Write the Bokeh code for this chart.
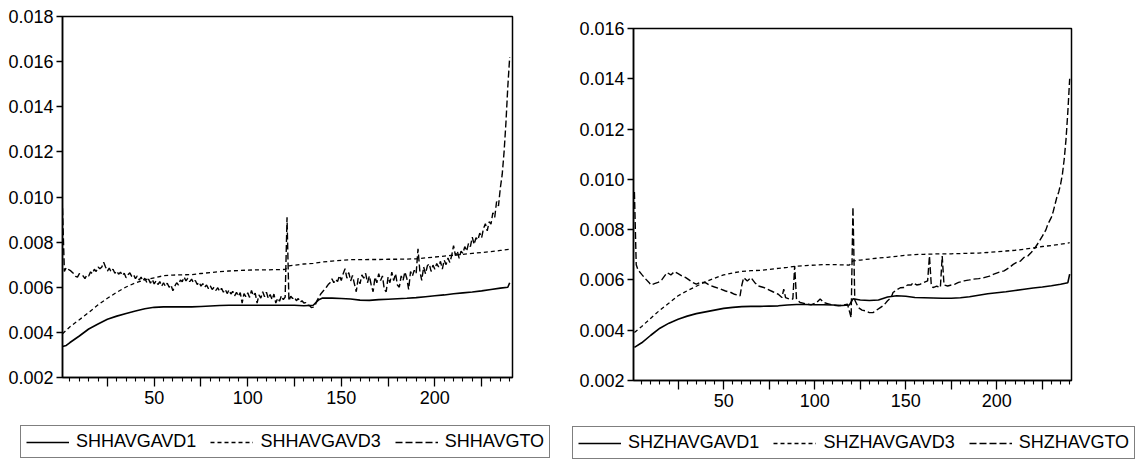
from bokeh.plotting import figure
from bokeh.layouts import row, column
from bokeh.models import (FixedTicker, NumeralTickFormatter, Range1d, Legend, LegendItem)
from bokeh.embed import file_html
from bokeh.resources import INLINE

# ---------------- data: Shanghai (left) ----------------
sh_avd1_x = [1, 3, 5, 10, 15, 20, 25, 30, 35, 40, 45, 50, 55, 60, 65, 70, 75, 80, 85, 90, 95, 100,
             105, 110, 115, 120, 125, 130, 135, 138, 140, 145, 150, 155, 160, 165, 170, 175, 180,
             185, 190, 195, 200, 205, 210, 215, 220, 225, 230, 235, 239, 240]
sh_avd1_y = [0.00337, 0.00342, 0.00355, 0.00384, 0.00415, 0.00437, 0.00458, 0.00472, 0.00484,
             0.00495, 0.00505, 0.00511, 0.00513, 0.00513, 0.00513, 0.00513, 0.00515, 0.00517,
             0.00519, 0.0052, 0.0052, 0.0052, 0.0052, 0.0052, 0.0052, 0.0052, 0.0052, 0.00518,
             0.0052, 0.00545, 0.00552, 0.00552, 0.0055, 0.00548, 0.00543, 0.00542, 0.00545,
             0.00547, 0.00549, 0.00551, 0.00554, 0.00558, 0.00562, 0.00566, 0.00571, 0.00575,
             0.00579, 0.00584, 0.0059, 0.00596, 0.006, 0.0062]

sh_avd3_x = [1, 5, 10, 15, 20, 25, 30, 35, 40, 45, 50, 55, 60, 65, 70, 75, 80, 85, 90, 95, 100,
             105, 110, 115, 120, 122, 125, 130, 135, 140, 145, 150, 155, 160, 165, 170, 175, 180,
             185, 190, 195, 200, 205, 210, 215, 220, 225, 230, 235, 240]
sh_avd3_y = [0.00394, 0.00425, 0.00456, 0.00488, 0.00522, 0.00551, 0.00578, 0.00601, 0.0062,
             0.00633, 0.00642, 0.00651, 0.00654, 0.00655, 0.00656, 0.00661, 0.00665, 0.00669,
             0.00672, 0.00674, 0.00676, 0.00677, 0.00677, 0.00678, 0.00679, 0.00695, 0.00698,
             0.00703, 0.00706, 0.00712, 0.00716, 0.00719, 0.00722, 0.00722, 0.00723, 0.00723,
             0.00724, 0.00724, 0.00725, 0.00726, 0.0073, 0.00734, 0.00738, 0.00742, 0.00746,
             0.0075, 0.00754, 0.00758, 0.00763, 0.00768]

# observations 1..240
sh_to_y = [
    0.0095, 0.0067, 0.00687, 0.0068, 0.00675, 0.00668, 0.0066, 0.00648, 0.00645, 0.0066,      # 1-10
    0.00655, 0.0065, 0.00638, 0.00655, 0.0065, 0.00668, 0.0066, 0.0068, 0.0067, 0.0069,       # 11-20
    0.00682, 0.0069, 0.00711, 0.0069, 0.00672, 0.00685, 0.00668, 0.0068, 0.00662, 0.00672,    # 21-30
    0.00658, 0.00667, 0.00652, 0.00662, 0.00642, 0.00655, 0.00664, 0.00648, 0.00655, 0.00638, # 31-40
    0.0065, 0.00632, 0.00645, 0.00628, 0.0064, 0.00622, 0.00636, 0.00618, 0.00634, 0.00615,   # 41-50
    0.00628, 0.00612, 0.00625, 0.00605, 0.0062, 0.00604, 0.00618, 0.006, 0.0061, 0.00584,     # 51-60
    0.00605, 0.0062, 0.0061, 0.00632, 0.00625, 0.00645, 0.00628, 0.0064, 0.00625, 0.00636,    # 61-70
    0.0062, 0.0063, 0.00612, 0.00622, 0.00605, 0.00616, 0.006, 0.0061, 0.00594, 0.00606,      # 71-80
    0.0059, 0.006, 0.00586, 0.00598, 0.00582, 0.00595, 0.00578, 0.0059, 0.00572, 0.00588,     # 81-90
    0.0057, 0.00582, 0.00562, 0.00578, 0.0056, 0.00576, 0.0053, 0.00572, 0.00558, 0.00575,    # 91-100
    0.00555, 0.00586, 0.00562, 0.00574, 0.0053, 0.00566, 0.00552, 0.0058, 0.00558, 0.00578,   # 101-110
    0.0055, 0.00568, 0.00545, 0.0057, 0.0053, 0.00552, 0.00538, 0.00562, 0.00545, 0.00556,    # 111-120
    0.0091, 0.0054, 0.0056, 0.0055, 0.00556, 0.0054, 0.0055, 0.00534, 0.0054, 0.0053,         # 121-130
    0.00532, 0.0052, 0.00519, 0.0051, 0.00512, 0.0052, 0.0054, 0.00556, 0.0057, 0.0058,       # 131-140
    0.0059, 0.006, 0.00612, 0.0062, 0.00638, 0.0062, 0.00635, 0.00625, 0.00652, 0.0063,       # 141-150
    0.0066, 0.00682, 0.0064, 0.00665, 0.00628, 0.00652, 0.00615, 0.0058, 0.0064, 0.00615,     # 151-160
    0.00655, 0.0064, 0.00662, 0.0062, 0.0065, 0.0061, 0.0058, 0.00645, 0.0062, 0.0066,        # 161-170
    0.0063, 0.0065, 0.0059, 0.0058, 0.00645, 0.0062, 0.00667, 0.0063, 0.0066, 0.0061,         # 171-180
    0.006, 0.0065, 0.0063, 0.00668, 0.0064, 0.0059, 0.0067, 0.0065, 0.00675, 0.0066,          # 181-190
    0.0077, 0.0067, 0.0063, 0.0069, 0.0066, 0.00695, 0.00704, 0.0067, 0.00698, 0.0068,        # 191-200
    0.00705, 0.0069, 0.00715, 0.0068, 0.0072, 0.007, 0.0073, 0.0071, 0.0074, 0.00785,         # 201-210
    0.0074, 0.0076, 0.00728, 0.0076, 0.0075, 0.0078, 0.0076, 0.00795, 0.0078, 0.00822,        # 211-220
    0.0079, 0.0082, 0.0081, 0.0084, 0.0082, 0.0086, 0.00882, 0.0085, 0.0089, 0.0088,          # 221-230
    0.0093, 0.0091, 0.0098, 0.0096, 0.0104, 0.011, 0.012, 0.0133, 0.0149, 0.0162,             # 231-240
]
sh_to_x = list(range(1, len(sh_to_y) + 1))

# ---------------- data: Shenzhen (right) ----------------
sz_avd1_x = [1, 5, 10, 15, 20, 25, 30, 35, 40, 45, 50, 55, 60, 65, 70, 75, 80, 85, 90, 95, 100,
             105, 110, 115, 119, 121, 125, 130, 135, 140, 145, 150, 155, 160, 165, 170, 175, 180,
             185, 190, 195, 200, 205, 210, 215, 220, 225, 230, 235, 239, 240]
sz_avd1_y = [0.00332, 0.0035, 0.0038, 0.00408, 0.00428, 0.00444, 0.00456, 0.00466, 0.00473,
             0.0048, 0.00487, 0.00491, 0.00494, 0.00495, 0.00495, 0.00496, 0.00497, 0.005,
             0.00502, 0.00502, 0.00501, 0.00501, 0.005, 0.00498, 0.005, 0.00525, 0.0052, 0.00518,
             0.0052, 0.00532, 0.00537, 0.00535, 0.0053, 0.00529, 0.00528, 0.00527, 0.00527,
             0.00529, 0.00533, 0.00539, 0.00545, 0.00549, 0.00553, 0.00558, 0.00563, 0.00568,
             0.00572, 0.00577, 0.00583, 0.00589, 0.00623]

sz_avd3_x = [1, 5, 10, 15, 20, 25, 30, 35, 40, 45, 50, 55, 60, 65, 70, 75, 80, 85, 90, 95, 100,
             105, 110, 115, 119, 121, 125, 130, 135, 140, 145, 150, 155, 160, 165, 170, 175, 180,
             185, 190, 195, 200, 205, 210, 215, 220, 225, 230, 235, 240]
sz_avd3_y = [0.00391, 0.00415, 0.00448, 0.0048, 0.00508, 0.00537, 0.00557, 0.00575, 0.00593,
             0.00607, 0.0062, 0.00628, 0.00634, 0.00637, 0.00638, 0.00642, 0.00646, 0.0065,
             0.00655, 0.00657, 0.00659, 0.00661, 0.00661, 0.0066, 0.00659, 0.00676, 0.00679,
             0.00683, 0.00687, 0.0069, 0.00694, 0.00698, 0.00701, 0.00702, 0.00703, 0.00704,
             0.00704, 0.00705, 0.00706, 0.00707, 0.00709, 0.00712, 0.00715, 0.00718, 0.00722,
             0.00727, 0.00733, 0.00737, 0.00742, 0.00748]

sz_to_x = [1, 2, 3, 5, 7, 9, 10, 12, 14, 16, 18, 19, 21, 23, 25, 27, 29, 31, 33, 35, 37, 40, 42,
           45, 48, 51, 54, 56, 59, 60, 61, 63, 65, 67, 69, 72, 74, 77, 80, 82, 83, 84, 86, 88, 89,
           90, 92, 95, 98, 101, 103, 105, 107, 110, 113, 116, 118, 120, 121, 122, 124, 126, 128,
           130, 132, 134, 136, 138, 140, 142, 143, 145, 147, 149, 151, 153, 154, 156, 158, 160,
           162, 163, 164, 165, 167, 169, 170, 171, 173, 175, 177, 179, 182, 185, 187, 190, 193,
           196, 198, 201, 204, 207, 209, 211, 213, 215, 217, 219, 221, 223, 225, 227, 228, 230,
           231, 233, 234, 235, 236, 237, 238, 239, 240]
sz_to_y = [0.0095, 0.0066, 0.0064, 0.00622, 0.00605, 0.0059, 0.0058, 0.00585, 0.0059, 0.006,
           0.0062, 0.00629, 0.0062, 0.00633, 0.00625, 0.00616, 0.0061, 0.006, 0.0059, 0.00583,
           0.0059, 0.00589, 0.0058, 0.00572, 0.00565, 0.00556, 0.0055, 0.00543, 0.00537, 0.0058,
           0.00609, 0.00596, 0.00609, 0.0059, 0.00576, 0.0057, 0.00563, 0.00553, 0.00543, 0.0053,
           0.00563, 0.0053, 0.00524, 0.00524, 0.00655, 0.00524, 0.0051, 0.00505, 0.00501, 0.0051,
           0.00524, 0.0051, 0.00506, 0.005, 0.00497, 0.005, 0.00504, 0.0045, 0.0089, 0.0052,
           0.0049, 0.0048, 0.00477, 0.0047, 0.0047, 0.0048, 0.0049, 0.005, 0.00517, 0.0053,
           0.0055, 0.0056, 0.00569, 0.0057, 0.0058, 0.0058, 0.00589, 0.0058, 0.00583, 0.0059,
           0.00596, 0.00695, 0.0058, 0.00569, 0.00575, 0.0057, 0.00695, 0.0058, 0.00576, 0.0058,
           0.00583, 0.0059, 0.00596, 0.006, 0.00603, 0.00605, 0.00609, 0.00615, 0.00622, 0.0063,
           0.00636, 0.0065, 0.00662, 0.0067, 0.00675, 0.0069, 0.00695, 0.0071, 0.00728, 0.0075,
           0.00774, 0.008, 0.00821, 0.0085, 0.00873, 0.0093, 0.0095, 0.0098, 0.0102, 0.0108,
           0.0116, 0.0127, 0.014]

x_major = [25, 50, 75, 100, 125, 150, 175, 200, 225]
x_minor = [v for v in range(5, 241, 5) if v not in x_major]
x_hidden = {25: "", 75: "", 125: "", 175: "", 225: ""}

FONT = "Liberation Sans"
DASHES = ["solid", "4 3", "7 3"]
WIDTHS = [1.6, 1.3, 1.4]


def make_panel(series, width, height, borders, x_rng, y_rng, y_ticks):
    bl, br, bt, bb = borders
    p = figure(width=width, height=height, output_backend="svg", toolbar_location=None,
               x_range=Range1d(*x_rng), y_range=Range1d(*y_rng),
               min_border_left=bl, min_border_right=br, min_border_top=bt, min_border_bottom=bb)
    p.frame_align = False
    p.xgrid.visible = False
    p.ygrid.visible = False
    p.outline_line_color = "black"
    p.outline_line_width = 1.5
    p.outline_line_alpha = 1.0
    p.background_fill_color = "white"
    p.border_fill_color = "white"

    for (xs, ys), d, w in zip(series, DASHES, WIDTHS):
        p.line(xs, ys, line_color="black", line_width=w, line_dash=d)

    xa = p.xaxis[0]
    xa.ticker = FixedTicker(ticks=x_major, minor_ticks=x_minor)
    xa.major_label_overrides = x_hidden
    xa.major_tick_out = 9
    xa.major_tick_in = 0
    xa.minor_tick_out = 4
    xa.minor_tick_in = 0
    xa.major_label_standoff = 4
    ya = p.yaxis[0]
    ya.ticker = FixedTicker(ticks=y_ticks, minor_ticks=[])
    ya.formatter = NumeralTickFormatter(format="0.000")
    ya.major_tick_out = 6
    ya.major_tick_in = 0
    ya.minor_tick_out = 0
    ya.major_label_standoff = 3
    for ax in (xa, ya):
        ax.axis_line_width = 1.5
        ax.axis_line_color = "black"
        ax.major_tick_line_color = "black"
        ax.minor_tick_line_color = "black"
        ax.major_tick_line_width = 1.3
        ax.minor_tick_line_width = 1.1
        ax.major_label_text_font = FONT
        ax.major_label_text_font_size = "18px"
        ax.major_label_text_color = "black"
    return p


def make_legend(names, width, height, loc):
    lf = figure(width=width, height=height, output_backend="svg", toolbar_location=None,
                x_range=Range1d(0, 1), y_range=Range1d(0, 1), min_border=0,
                min_border_left=0, min_border_right=0, min_border_top=0, min_border_bottom=0,
                x_axis_type=None, y_axis_type=None)
    lf.frame_align = False
    lf.grid.visible = False
    lf.outline_line_color = None
    lf.background_fill_color = "white"
    lf.border_fill_color = "white"
    items = []
    for n, d, w in zip(names, DASHES, WIDTHS):
        # legend-only renderer: its points lie outside the visible range
        r = lf.line([5, 6], [5, 6], line_color="black", line_width=w, line_dash=d)
        items.append(LegendItem(label=n, renderers=[r]))
    leg = Legend(items=items, orientation="horizontal", location=loc)
    leg.padding = 5
    leg.margin = 0
    leg.spacing = 14
    leg.glyph_width = 43
    leg.glyph_height = 18
    leg.label_height = 18
    leg.label_standoff = 7
    leg.label_text_font = FONT
    leg.label_text_font_size = "18px"
    leg.label_text_color = "black"
    leg.border_line_color = "black"
    leg.border_line_width = 1.5
    leg.background_fill_alpha = 1.0
    lf.add_layout(leg)
    return lf


y_left = [0.002, 0.004, 0.006, 0.008, 0.010, 0.012, 0.014, 0.016, 0.018]
y_right = [0.002, 0.004, 0.006, 0.008, 0.010, 0.012, 0.014, 0.016]

p1 = make_panel([(sh_avd1_x, sh_avd1_y), (sh_avd3_x, sh_avd3_y), (sh_to_x, sh_to_y)],
                560, 420, (62, 48, 16, 43), (1, 241.5), (0.002, 0.018), y_left)
l1 = make_legend(["SHHAVGAVD1", "SHHAVGAVD3", "SHHAVGTO"], 560, 41, (20, 3))

p2 = make_panel([(sz_avd1_x, sz_avd1_y), (sz_avd3_x, sz_avd3_y), (sz_to_x, sz_to_y)],
                586, 420, (73, 75, 28, 40), (0.5, 241), (0.002, 0.016), y_right)
l2 = make_legend(["SHZHAVGAVD1", "SHZHAVGAVD3", "SHZHAVGTO"], 586, 41, (12, 2))

layout = row(column(p1, l1, spacing=0), column(p2, l2, spacing=0), spacing=0)
open("out.html", "w").write(file_html(layout, INLINE))
